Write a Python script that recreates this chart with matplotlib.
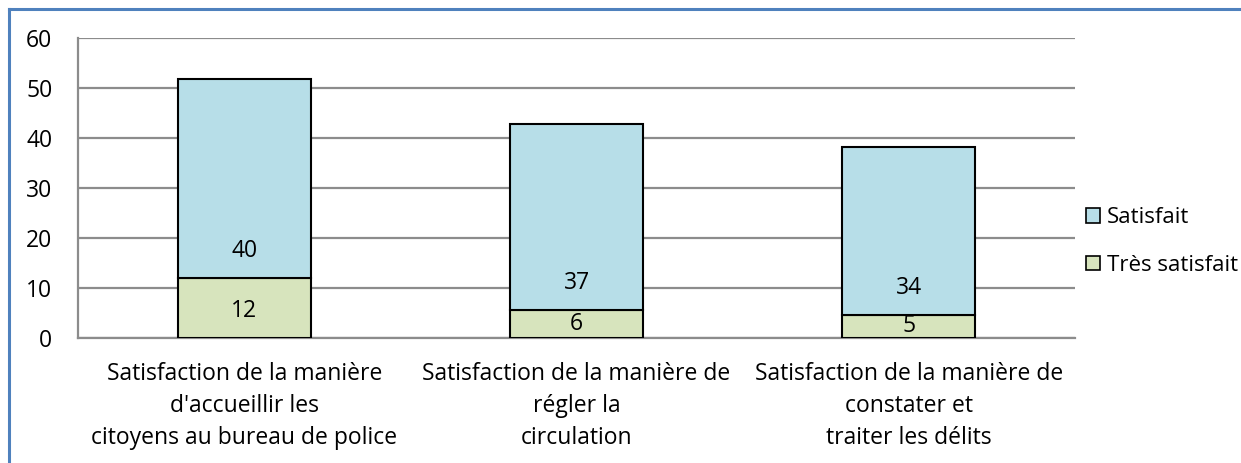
import matplotlib
matplotlib.use("Agg")
import matplotlib.pyplot as plt
from matplotlib.patches import Patch
from matplotlib.lines import Line2D
import numpy as np

plt.rcParams['font.family'] = ['Open Sans', 'DejaVu Sans']

# données
categories = [
    "Satisfaction de la manière\nd'accueillir les\ncitoyens au bureau de police",
    "Satisfaction de la manière de\nrégler la\ncirculation",
    "Satisfaction de la manière de\nconstater et\ntraiter les délits",
]
tres_satisfait = [12, 5.6, 4.6]
satisfait = [39.8, 37.2, 33.6]
series_names = ["Satisfait", "Très satisfait"]
yticks = [0, 10, 20, 30, 40, 50, 60]

col_sat = "#B7DEE8"
col_tres = "#D7E4BD"
grid_col = "#8C8C8C"
fs = 16.5

fig = plt.figure(figsize=(12.41, 4.63), dpi=100)
ax = fig.add_axes([0.0629, 0.270, 0.8033, 0.648])

x = np.arange(len(categories))
w = 0.4
b1 = ax.bar(x, tres_satisfait, w, color=col_tres, edgecolor="black", linewidth=1.5, zorder=3)
b2 = ax.bar(x, satisfait, w, bottom=tres_satisfait, color=col_sat, edgecolor="black", linewidth=1.5, zorder=3)

# étiquettes de valeurs
for i in range(len(x)):
    base = 0
    for vals in (tres_satisfait, satisfait):
        v = vals[i]
        ypos = base + min(5.4, v / 2)
        ax.text(x[i], ypos, f"{round(v):d}", ha="center", va="center", fontsize=fs, zorder=4)
        base += v

ax.set_xlim(-0.5, 2.5)
ax.set_ylim(0, 60)
ax.set_yticks(yticks)
ax.set_xticks(x)
ax.set_xticklabels(categories, fontsize=fs, linespacing=1.45)
ax.tick_params(axis="y", length=0, pad=18.5, labelsize=fs)
ax.tick_params(axis="x", length=0, pad=17)
for lab in ax.get_yticklabels():
    lab.set_horizontalalignment("right")

ax.yaxis.grid(True, color=grid_col, linewidth=1.6, zorder=0)
ax.set_axisbelow(True)
for s in ["top", "right"]:
    ax.spines[s].set_visible(False)
ax.spines["left"].set_color(grid_col)
ax.spines["bottom"].set_color(grid_col)
ax.spines["left"].set_linewidth(1.6)
ax.spines["bottom"].set_linewidth(1.6)

handles = [Patch(facecolor=col_sat, edgecolor="black", linewidth=1.2),
           Patch(facecolor=col_tres, edgecolor="black", linewidth=1.2)]
fig.legend(handles, series_names, loc="center left", bbox_to_anchor=(0.868, 0.478),
           frameon=False, fontsize=16, handlelength=0.63, handleheight=0.63,
           handletextpad=0.3, labelspacing=1.2, borderaxespad=0)

# cadre du graphique (bleu)
fig.add_artist(Line2D([0.0072, 1.0], [0.981, 0.981], color="#4F81BD", linewidth=2.2, transform=fig.transFigure))
fig.add_artist(Line2D([0.0072, 0.0072], [0.0, 0.981], color="#4F81BD", linewidth=2.2, transform=fig.transFigure))

fig.savefig("out.png", dpi=100)
